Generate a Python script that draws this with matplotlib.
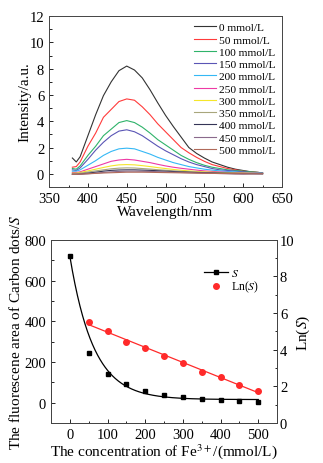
import numpy as np
import matplotlib
matplotlib.use('Agg')
import matplotlib.pyplot as plt
from matplotlib.ticker import AutoMinorLocator

plt.rcParams['font.family'] = ['Liberation Serif', 'DejaVu Serif']
plt.rcParams['mathtext.fontset'] = 'stix'
plt.rcParams['xtick.direction'] = 'in'
plt.rcParams['ytick.direction'] = 'in'

# Fluorescence spectra
wavelength = [380, 385, 390, 400, 410, 420, 430, 440, 450, 460, 470, 480, 490, 500,
              510, 520, 530, 540, 550, 560, 570, 580, 590, 600, 610, 620, 625]

conc_labels = ['0 mmol/L', '50 mmol/L', '100 mmol/L', '150 mmol/L', '200 mmol/L',
               '250 mmol/L', '300 mmol/L', '350 mmol/L', '400 mmol/L', '450 mmol/L',
               '500 mmol/L']

spec_0 = [1.2, 0.9, 1.3, 2.9, 4.5, 5.95, 7.0, 7.85, 8.2, 7.9, 7.3, 6.4, 5.4, 4.45,
          3.6, 2.8, 2.0, 1.55, 1.2, 0.9, 0.7, 0.5, 0.35, 0.25, 0.15, 0.1, 0.05]
spec_50 = [0.5, 0.55, 0.9, 2.1, 3.1, 4.3, 4.9, 5.5, 5.7, 5.6, 5.1, 4.5, 3.8, 3.2,
           2.6, 2.0, 1.6, 1.25, 0.95, 0.7, 0.55, 0.4, 0.3, 0.2, 0.15, 0.1, 0.05]
spec_100 = [0.4, 0.35, 0.6, 1.4, 2.1, 2.9, 3.4, 3.9, 4.05, 3.9, 3.55, 3.1, 2.6, 2.2,
            1.8, 1.4, 1.1, 0.85, 0.65, 0.5, 0.4, 0.3, 0.25, 0.2, 0.15, 0.1, 0.05]
spec_150 = [0.3, 0.25, 0.45, 1.1, 1.8, 2.4, 2.9, 3.25, 3.35, 3.2, 2.9, 2.5, 2.1, 1.75,
            1.45, 1.15, 0.9, 0.7, 0.55, 0.4, 0.3, 0.25, 0.2, 0.15, 0.1, 0.08, 0.05]
spec_200 = [0.2, 0.2, 0.3, 0.65, 1.0, 1.4, 1.7, 1.9, 1.95, 1.9, 1.7, 1.5, 1.25, 1.05,
            0.85, 0.7, 0.55, 0.45, 0.35, 0.28, 0.22, 0.18, 0.14, 0.1, 0.08, 0.05, 0.03]
spec_250 = [0.1, 0.1, 0.15, 0.35, 0.55, 0.75, 0.95, 1.05, 1.1, 1.05, 0.95, 0.85, 0.72, 0.6,
            0.5, 0.42, 0.35, 0.28, 0.22, 0.18, 0.14, 0.11, 0.09, 0.07, 0.05, 0.03, 0.02]
spec_300 = [0.05, 0.05, 0.1, 0.22, 0.35, 0.48, 0.6, 0.68, 0.7, 0.68, 0.62, 0.55, 0.47, 0.4,
            0.33, 0.27, 0.22, 0.18, 0.15, 0.12, 0.1, 0.08, 0.06, 0.05, 0.04, 0.03, 0.02]
spec_350 = [0.02, 0.02, 0.05, 0.13, 0.22, 0.3, 0.38, 0.43, 0.45, 0.44, 0.4, 0.36, 0.31, 0.27,
            0.23, 0.19, 0.16, 0.13, 0.11, 0.09, 0.07, 0.06, 0.05, 0.04, 0.03, 0.02, 0.01]
spec_400 = [-0.05, -0.05, -0.02, 0.05, 0.12, 0.2, 0.26, 0.29, 0.3, 0.3, 0.28, 0.26, 0.23, 0.2,
            0.17, 0.14, 0.12, 0.1, 0.08, 0.06, 0.05, 0.04, 0.03, 0.02, 0.01, 0.0, 0.0]
spec_450 = [-0.05, -0.05, -0.04, 0.0, 0.05, 0.1, 0.15, 0.18, 0.2, 0.2, 0.19, 0.18, 0.16, 0.14,
            0.12, 0.1, 0.08, 0.06, 0.05, 0.03, 0.02, 0.0, -0.02, -0.03, -0.01, 0.0, 0.0]
spec_500 = [-0.03, -0.03, -0.02, 0.0, 0.03, 0.06, 0.08, 0.1, 0.12, 0.12, 0.12, 0.11, 0.1, 0.09,
            0.08, 0.07, 0.06, 0.05, 0.04, 0.03, 0.02, 0.02, 0.01, 0.01, 0.0, 0.0, 0.0]

spectra = [spec_0, spec_50, spec_100, spec_150, spec_200, spec_250,
           spec_300, spec_350, spec_400, spec_450, spec_500]
spec_colors = ['#333333', '#ff3b3b', '#2fb36a', '#5a55b5', '#35b8f5', '#ee3aa5',
               '#f5e62a', '#a8a67c', '#343456', '#8a6a8c', '#b06a5a']

# Fluorescence area vs Fe3+ concentration
fe_conc = [0, 50, 100, 150, 200, 250, 300, 350, 400, 450, 500]
area_S = [720, 245, 143, 93, 57, 38, 28, 16, 13, 7, 5]
ln_conc = [50, 100, 150, 200, 250, 300, 350, 400, 450, 500]
ln_S = [5.5, 5.0, 4.45, 4.1, 3.65, 3.3, 2.8, 2.5, 2.1, 1.75]

fig = plt.figure(figsize=(3.23, 4.64), dpi=100)

# ---- top panel: spectra ----
ax1 = fig.add_axes([0.152, 0.595, 0.721, 0.368])
for spec, col, lab in zip(spectra, spec_colors, conc_labels):
    ax1.plot(wavelength, spec, color=col, lw=0.8, label=lab)
ax1.set_xlim(350, 650)
ax1.set_ylim(-1, 12)
ax1.set_xticks(range(350, 651, 50))
ax1.set_yticks(range(0, 13, 2))
ax1.xaxis.set_minor_locator(AutoMinorLocator(2))
ax1.yaxis.set_minor_locator(AutoMinorLocator(2))
ax1.tick_params(labelsize=10.5, length=3, width=0.6)
ax1.tick_params(which='minor', length=1.8, width=0.6)
ax1.set_xlabel('Wavelength/nm', fontsize=11, labelpad=0)
ax1.set_ylabel('Intensity/a.u.', fontsize=11, labelpad=-1)
for sp in ax1.spines.values():
    sp.set_linewidth(0.7)
    sp.set_color('#444444')
ax1.legend(loc='upper right', frameon=False, fontsize=8.2, handlelength=2.0,
           handletextpad=0.25, labelspacing=0.2, borderaxespad=0.15)

# ---- bottom panel: area and Ln(S) ----
ax2 = fig.add_axes([0.158, 0.086, 0.700, 0.395])
# exponential decay fit (the 50 mmol/L point sits off the fitted curve)
x_arr = np.array(fe_conc, dtype=float)
y_arr = np.array(area_S, dtype=float)
keep = x_arr != 50
best = None
for t in np.linspace(10, 200, 1901):
    M = np.column_stack([np.exp(-x_arr[keep] / t), np.ones(keep.sum())])
    coef = np.linalg.lstsq(M, y_arr[keep], rcond=None)[0]
    err = np.sum((M @ coef - y_arr[keep]) ** 2)
    if best is None or err < best[0]:
        best = (err, t, coef)
_, tau, (amp, off) = best
xf = np.linspace(0, 500, 300)
ax2.plot(xf, amp * np.exp(-xf / tau) + off, color='black', lw=0.9)
ax2.plot(fe_conc, area_S, 's', color='black', ms=3.2)
ax2.plot([], [], '-s', color='black', ms=3.2, lw=0.9, label='$S$')
ax2.set_xlim(-50, 550)
ax2.set_ylim(-100, 800)
ax2.set_xticks(range(0, 501, 100))
ax2.set_yticks(range(0, 801, 200))
ax2.xaxis.set_minor_locator(AutoMinorLocator(2))
ax2.yaxis.set_minor_locator(AutoMinorLocator(2))
ax2.tick_params(labelsize=10.5, length=3, width=0.6)
ax2.tick_params(which='minor', length=1.8, width=0.6)
ax2.set_xlabel('The concentration of Fe$^{3+}$/(mmol/L)', fontsize=11, labelpad=0)
ax2.set_ylabel('The fluorescene area of Carbon dots/$S$', fontsize=11, labelpad=1)

ax3 = ax2.twinx()
k, b = np.polyfit(ln_conc, ln_S, 1)
xl = np.array([50, 500])
ax3.plot(xl, k * xl + b, color='#ff2a2a', lw=0.9)
ax3.plot(ln_conc, ln_S, 'o', color='#ff2a2a', ms=4.0, label='Ln($S$)')
ax3.set_ylim(0, 10)
ax3.set_yticks(range(0, 11, 2))
ax3.yaxis.set_minor_locator(AutoMinorLocator(2))
ax3.tick_params(labelsize=10.5, length=3, width=0.6, pad=2)
ax3.tick_params(which='minor', length=1.8, width=0.6)
ax3.set_ylabel('Ln($S$)', fontsize=11, labelpad=0)
for a in (ax2, ax3):
    for sp in a.spines.values():
        sp.set_linewidth(0.7)
        sp.set_color('#444444')

h2, l2 = ax2.get_legend_handles_labels()
h3, l3 = ax3.get_legend_handles_labels()
ax3.legend(h2 + h3, l2 + l3, loc='upper left', bbox_to_anchor=(0.63, 0.91),
           frameon=False, fontsize=8.5, handlelength=2.0, handletextpad=0.25,
           labelspacing=0.0)

fig.savefig('out.png', dpi=100)
